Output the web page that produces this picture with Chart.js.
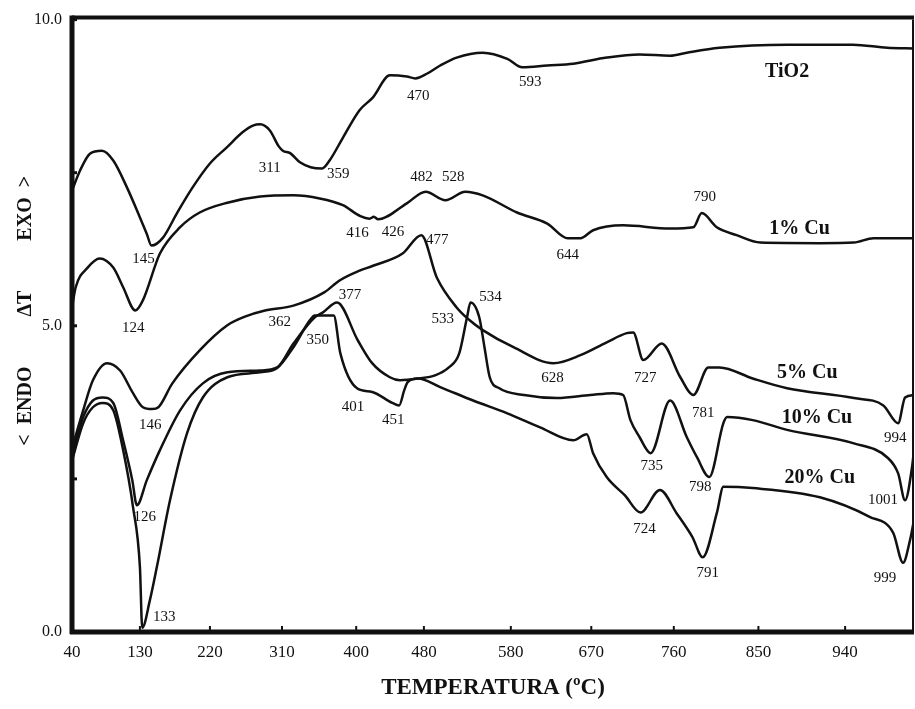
<!DOCTYPE html>
<html lang="es">
<head>
  <meta charset="UTF-8">
  <title>ATD – TiO2 y Cu/TiO2</title>
  <script src="https://cdn.jsdelivr.net/npm/chart.js"></script>
  <style>
    html, body {
      margin: 0;
      padding: 0;
      background: #fff;
    }

    .chart-container {
      width: 915px;
      height: 709px;
    }
  </style>
</head>
<body>

<div class="chart-container">
  <canvas id="dtaChart"></canvas>
</div>

<script>
  // curvas ATD: temperatura (ºC) y señal ΔT (unidades del registrador)
  const tempTiO2 = [40, 51, 64, 80, 95, 113, 130, 139, 145, 160, 178, 198, 220, 241, 261, 274, 283, 295, 306, 311,
    320, 332, 345, 359, 368, 384, 404, 420, 440, 460, 470, 484, 499, 518, 548, 576, 593, 621, 650, 687,
    723, 756, 774, 809, 880, 948, 983, 1010];
  const dtaTiO2 = [7.21, 7.54, 7.81, 7.86, 7.70, 7.26, 6.77, 6.50, 6.31, 6.44, 6.84, 7.26, 7.65, 7.91, 8.16, 8.27, 8.29, 8.19, 7.93, 7.86,
    7.82, 7.67, 7.59, 7.57, 7.70, 8.07, 8.52, 8.73, 9.09, 9.07, 9.04, 9.12, 9.25, 9.38, 9.46, 9.36, 9.22, 9.25, 9.28, 9.38,
    9.43, 9.41, 9.46, 9.54, 9.59, 9.59, 9.54, 9.53];

  const temp1Cu = [40, 45, 61, 77, 95, 108, 124, 134, 156, 182, 207, 242, 283, 324, 356, 384, 405, 416, 421, 426,
    460, 482, 505, 528, 548, 587, 621, 644, 658, 672, 705, 756, 781, 790, 806, 827, 852, 914, 949, 969, 1010];
  const dta1Cu = [5.30, 5.63, 5.95, 6.10, 5.95, 5.63, 5.25, 5.42, 6.18, 6.61, 6.85, 7.01, 7.11, 7.13, 7.08, 6.97, 6.79, 6.75, 6.78, 6.74,
    7.00, 7.19, 7.05, 7.19, 7.13, 6.85, 6.67, 6.43, 6.43, 6.56, 6.64, 6.59, 6.61, 6.84, 6.61, 6.48, 6.36, 6.35, 6.36, 6.43, 6.43];

  const temp5Cu = [40, 55, 68, 87, 104, 121, 134, 146, 154, 172, 207, 242, 264, 289, 324, 362, 380, 404, 420, 455,
    477, 495, 518, 533, 548, 583, 628, 658, 687, 709, 716, 727, 747, 767, 781, 797, 809, 844, 880, 949,
    979, 994, 1001, 1010];
  const dta5Cu = [3.00, 3.62, 4.11, 4.39, 4.27, 3.90, 3.67, 3.64, 3.67, 4.06, 4.60, 5.01, 5.15, 5.25, 5.33, 5.55, 5.74, 5.90, 5.98, 6.18,
    6.48, 5.79, 5.30, 5.09, 4.93, 4.65, 4.39, 4.52, 4.73, 4.88, 4.89, 4.44, 4.71, 4.16, 3.87, 4.32, 4.32, 4.14, 3.98, 3.82,
    3.70, 3.41, 3.83, 3.87];

  const temp10Cu = [40, 55, 68, 81, 95, 108, 120, 126, 139, 156, 182, 211, 242, 283, 304, 324, 350, 360, 377, 402,
    419, 440, 452, 474, 493, 509, 521, 530, 534, 544, 550, 556, 567, 595, 632, 669, 694, 705, 713, 723,
    735, 756, 774, 785, 798, 813, 817, 844, 880, 949, 983, 994, 1001, 1008, 1010];
  const dta10Cu = [2.90, 3.51, 3.78, 3.83, 3.74, 3.13, 2.48, 2.07, 2.48, 2.97, 3.62, 4.06, 4.24, 4.27, 4.32, 4.71, 5.14, 5.22, 5.38, 4.76,
    4.39, 4.16, 4.11, 4.14, 4.19, 4.32, 4.55, 5.14, 5.38, 5.14, 4.65, 4.16, 3.98, 3.87, 3.82, 3.87, 3.90, 3.87, 3.46, 3.18,
    2.92, 3.78, 3.18, 2.85, 2.53, 3.41, 3.51, 3.46, 3.30, 3.08, 2.85, 2.59, 2.15, 2.69, 2.97];

  const temp20Cu = [40, 55, 68, 81, 95, 108, 121, 130, 133, 143, 152, 169, 191, 211, 242, 283, 304, 324, 344, 350,
    373, 381, 401, 419, 443, 451, 457, 461, 473, 499, 537, 576, 613, 650, 665, 672, 687, 707, 724, 745,
    763, 780, 791, 806, 813, 844, 914, 965, 989, 999, 1006, 1010];
  const dta20Cu = [2.80, 3.41, 3.67, 3.74, 3.62, 2.97, 2.04, 1.06, 0.07, 0.52, 1.06, 2.15, 3.25, 3.83, 4.16, 4.24, 4.31, 4.65, 5.09, 5.17,
    5.17, 4.55, 3.98, 3.92, 3.74, 3.70, 3.95, 4.08, 4.14, 4.00, 3.78, 3.57, 3.34, 3.13, 3.23, 2.92, 2.53, 2.23, 1.95, 2.32,
    1.94, 1.55, 1.22, 1.94, 2.37, 2.35, 2.20, 1.88, 1.62, 1.13, 1.50, 1.83];

  const seriesNames = ['TiO2', '1% Cu', '5% Cu', '10% Cu', '20% Cu'];

  // temperaturas de los picos rotulados en cada curva
  const peaksTiO2 = [145, 311, 359, 470, 593];
  const peaks1Cu = [124, 416, 426, 482, 528, 644, 790];
  const peaks5Cu = [146, 362, 477, 533, 628, 727, 781, 994];
  const peaks10Cu = [126, 377, 534, 735, 798, 1001];
  const peaks20Cu = [133, 350, 401, 451, 724, 791, 999];

  const xTickValues = [40, 130, 220, 310, 400, 480, 580, 670, 760, 850, 940];
  const xTickLabels = ['40', '130', '220', '310', '400', '480', '580', '670', '760', '850', '940'];
  const yTickValues = [0, 2.5, 5, 7.5, 10];
  const yTickLabels = ['0.0', '', '5.0', '', '10.0'];

  // desplazamiento (px) de cada rótulo respecto a su pico
  const peakOffsets = [
    [[-8, 13], [-13, 17], [16, 6], [3, 18], [8, 15]],
    [[-2, 18], [-12, 14], [15, 13], [-4, -15], [-12, -15], [0, 17], [3, -16]],
    [[-2, 16], [-45, 30], [16, 5], [-27, -1], [-1, 15], [2, 18], [10, 18], [-3, 15]],
    [[8, 12], [13, -7], [20, -5], [1, 13], [-9, 10], [-22, 0]],
    [[22, -11], [3, 25], [-4, 19], [-6, 15], [4, 16], [5, 16], [-18, 15]]
  ];
  // posición de los nombres de curva (ºC, ΔT)
  const nameSpots = [[880, 9.15], [893, 6.59], [901, 4.24], [911, 3.49], [914, 2.51]];

  const SERIF = '"Liberation Serif", "Times New Roman", serif';

  // el registrador no avanza linealmente con la temperatura: eje estirado a alta T
  const STRETCH = 0.0001758;
  const stretch = t => t + STRETCH * t * t;
  const unstretch = u => (Math.sqrt(1 + 4 * STRETCH * u) - 1) / (2 * STRETCH);

  class RecorderScale extends Chart.LinearScale {
    static id = 'recorder';

    getPixelForValue(value) {
      const a = stretch(this.min), b = stretch(this.max);
      return this.getPixelForDecimal((stretch(value) - a) / (b - a));
    }

    getValueForPixel(pixel) {
      const a = stretch(this.min), b = stretch(this.max);
      return unstretch(a + this.getDecimalForPixel(pixel) * (b - a));
    }
  }
  Chart.register(RecorderScale);

  const curves = [
    [tempTiO2, dtaTiO2, peaksTiO2],
    [temp1Cu, dta1Cu, peaks1Cu],
    [temp5Cu, dta5Cu, peaks5Cu],
    [temp10Cu, dta10Cu, peaks10Cu],
    [temp20Cu, dta20Cu, peaks20Cu]
  ];

  const datasets = curves.map(([temps, vals], i) => ({
    label: seriesNames[i],
    data: temps.map((t, k) => ({ x: t, y: vals[k] })),
    borderColor: '#111',
    borderWidth: 2.5,
    pointRadius: 0,
    cubicInterpolationMode: 'monotone',
    fill: false
  }));

  // marco: ejes gruesos a la izquierda y abajo, marcas hacia dentro
  const framePlugin = {
    id: 'frame',
    afterDatasetsDraw(chart) {
      const { ctx, chartArea: a, scales: { x, y } } = chart;
      const seg = (x1, y1, x2, y2, w) => {
        ctx.lineWidth = w;
        ctx.beginPath();
        ctx.moveTo(x1, y1);
        ctx.lineTo(x2, y2);
        ctx.stroke();
      };
      ctx.save();
      ctx.strokeStyle = '#111';
      seg(a.left, a.top - 2, a.right, a.top - 2, 4);
      seg(a.right - 1, a.top, a.right - 1, a.bottom, 2);
      seg(a.left, a.top - 4, a.left, a.bottom + 2, 5);
      seg(a.left - 2, a.bottom, a.right, a.bottom, 5);
      xTickValues.forEach(v => {
        const px = x.getPixelForValue(v);
        seg(px, a.bottom, px, a.bottom - 6, 2);
      });
      yTickValues.forEach(v => {
        const py = y.getPixelForValue(v);
        seg(a.left, py, a.left + 5, py, 3);
      });
      ctx.restore();
    }
  };

  // rótulos de temperatura de pico y nombres de curva
  const labelPlugin = {
    id: 'peakLabels',
    afterDatasetsDraw(chart) {
      const { ctx, scales: { x, y } } = chart;
      ctx.save();
      ctx.fillStyle = '#111';
      ctx.textAlign = 'center';
      ctx.textBaseline = 'middle';
      ctx.font = '15px ' + SERIF;
      curves.forEach(([temps, vals, peaks], i) => {
        peaks.forEach((t, k) => {
          const v = vals[temps.indexOf(t)];
          const [dx, dy] = peakOffsets[i][k];
          ctx.fillText(String(t), x.getPixelForValue(t) + dx, y.getPixelForValue(v) + dy);
        });
      });
      ctx.font = 'bold 20px ' + SERIF;
      seriesNames.forEach((name, i) => {
        const [t, v] = nameSpots[i];
        ctx.fillText(name, x.getPixelForValue(t), y.getPixelForValue(v));
      });
      ctx.restore();
    }
  };

  new Chart(document.getElementById('dtaChart'), {
    type: 'line',
    data: { datasets },
    plugins: [framePlugin, labelPlugin],
    options: {
      responsive: true,
      maintainAspectRatio: false,
      animation: false,
      layout: {
        padding: { top: 19, right: 1, left: 0, bottom: 0 }
      },
      scales: {
        x: {
          type: 'recorder',
          min: 40,
          max: 1010,
          afterBuildTicks: scale => {
            scale.ticks = xTickValues.map(value => ({ value }));
          },
          afterFit: scale => {
            scale.height = 77;
          },
          grid: { display: false, drawTicks: false },
          border: { display: false },
          ticks: {
            autoSkip: false,
            maxRotation: 0,
            padding: 10,
            color: '#111',
            font: { family: SERIF, size: 17 },
            callback: (v, i) => xTickLabels[i]
          },
          title: {
            display: true,
            text: 'TEMPERATURA (ºC)',
            color: '#111',
            font: { family: SERIF, size: 23, weight: 'bold' },
            padding: { top: 0, bottom: 7 }
          }
        },
        y: {
          min: 0,
          max: 10,
          afterBuildTicks: scale => {
            scale.ticks = yTickValues.map(value => ({ value }));
          },
          afterFit: scale => {
            scale.width = 72;
          },
          grid: { display: false, drawTicks: false },
          border: { display: false },
          ticks: {
            padding: 10,
            color: '#111',
            font: { family: SERIF, size: 16 },
            callback: (v, i) => yTickLabels[i]
          },
          title: {
            display: true,
            text: '      <  ENDO          ΔT          EXO  >',
            color: '#111',
            font: { family: SERIF, size: 20, weight: 'bold' },
            padding: { top: 14, bottom: 0 }
          }
        }
      },
      plugins: {
        legend: { display: false },
        tooltip: { enabled: false }
      }
    }
  });
</script>

</body>
</html>
